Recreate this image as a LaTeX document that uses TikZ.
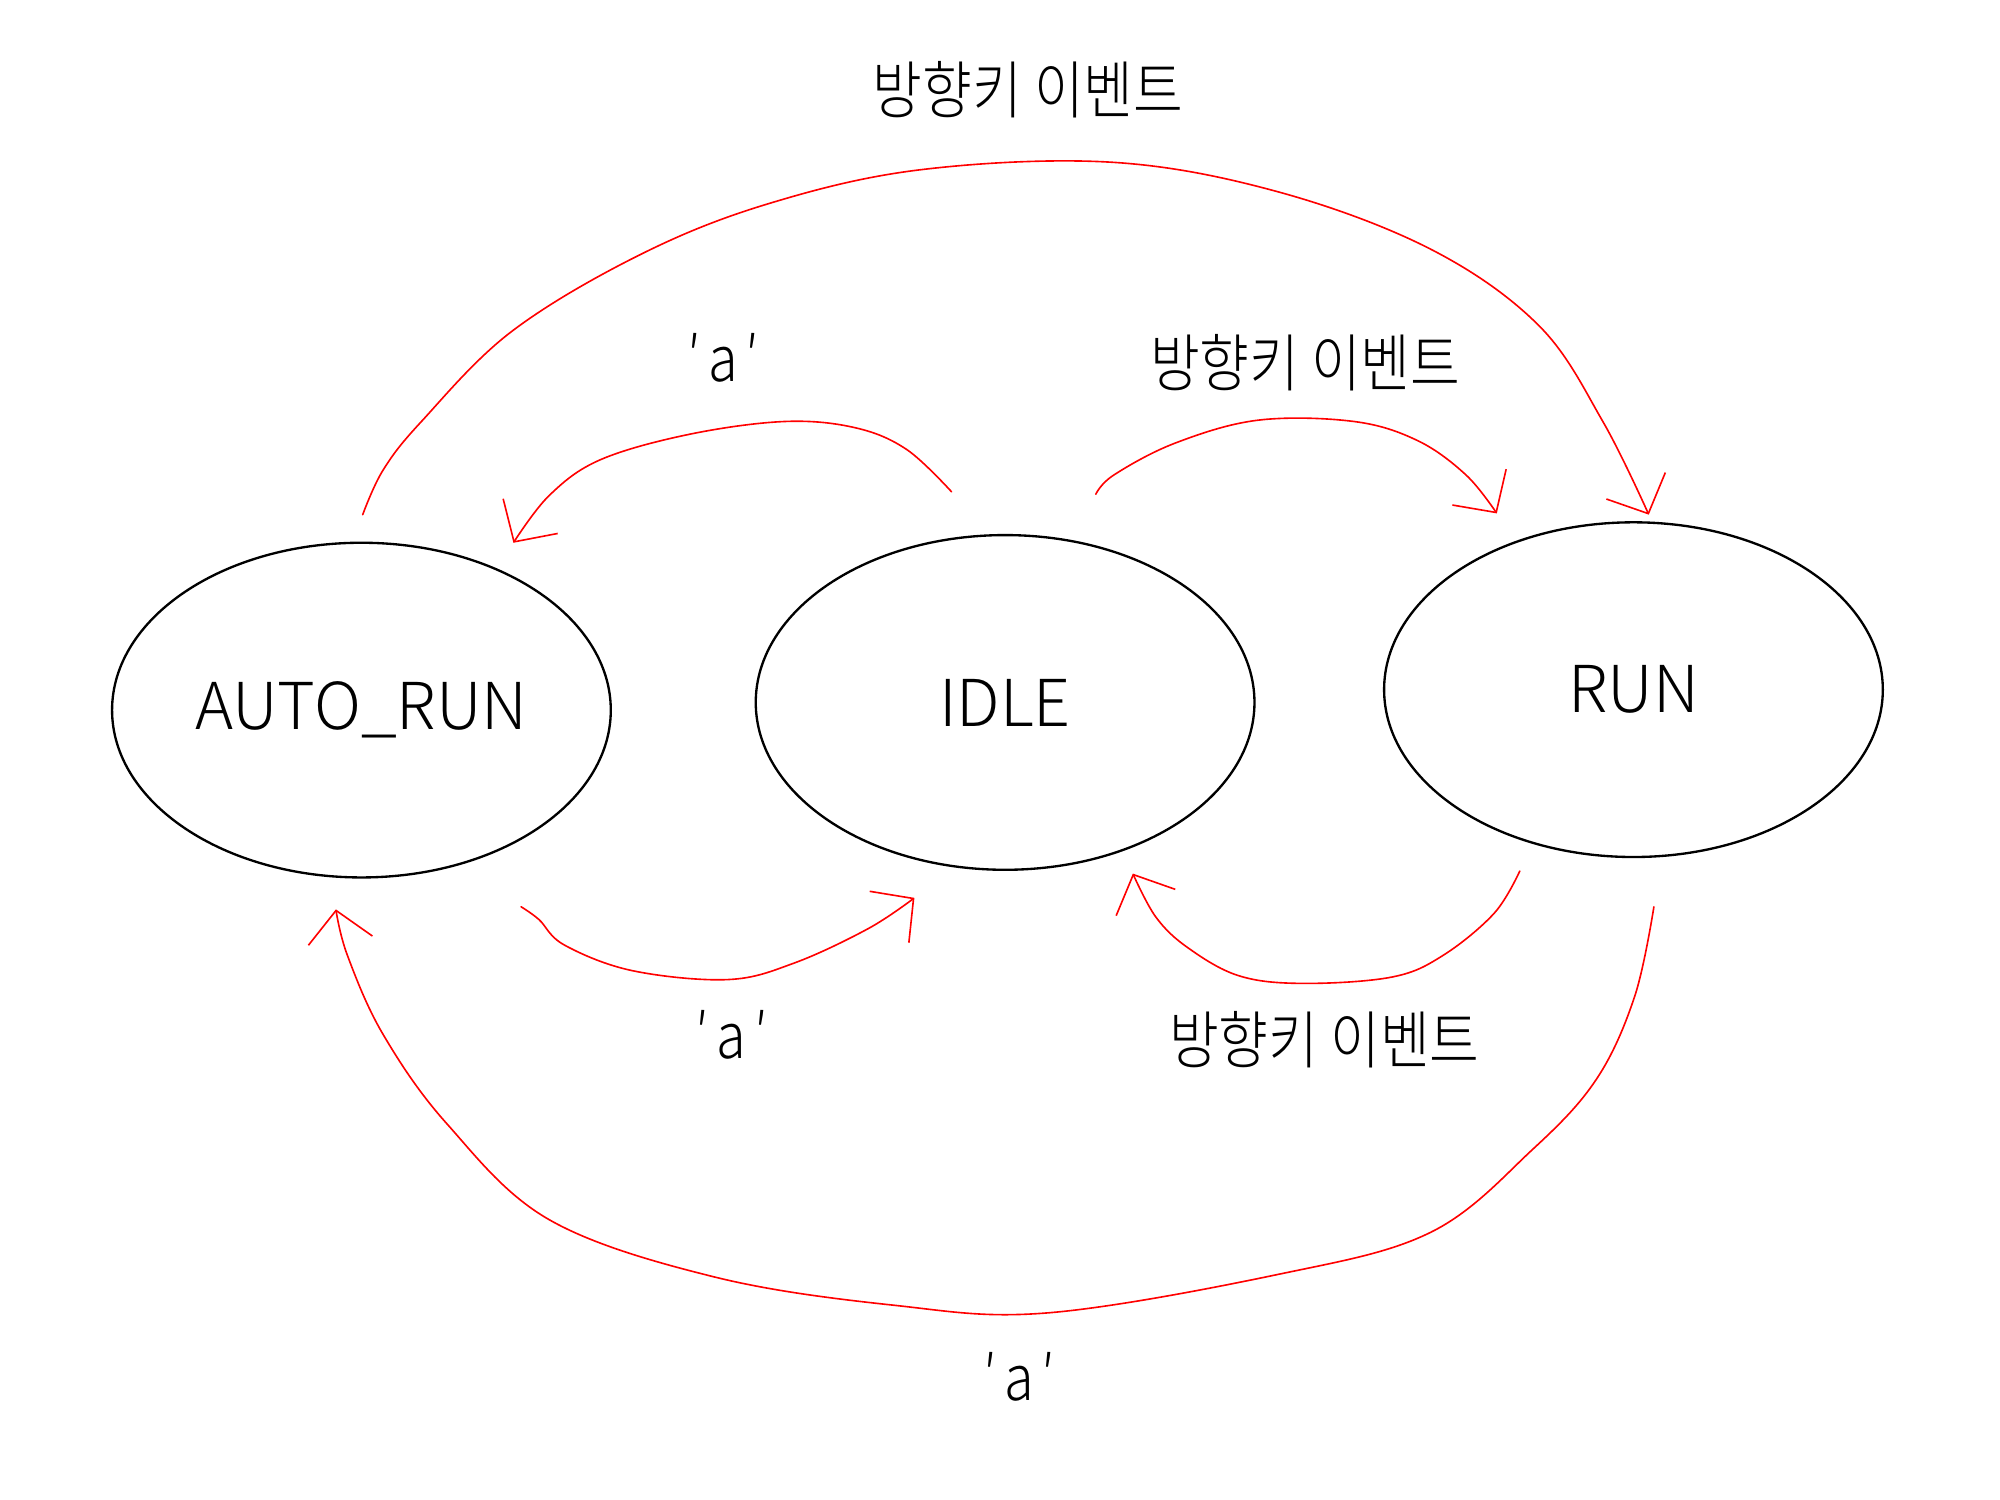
\documentclass[tikz,border=0pt]{standalone}
\usepackage{fontspec}
\setmainfont{Noto Sans CJK KR}[UprightFont={* Light}]
\newfontfamily\kr{Noto Sans CJK KR}[UprightFont={* Light}, FakeStretch=0.86]
\usetikzlibrary{shapes.geometric,arrows.meta,calc}
\tikzset{
  state/.style={draw=black, line width=1.3pt, ellipse, minimum width=9.76cm, minimum height=6.55cm, inner sep=0pt, outer sep=0pt, font=\fontsize{36}{40}\selectfont},
  edge/.style={draw=red, line width=0.9pt, line cap=round, line join=round, -{Straight Barb[length=17pt,width=36pt,line width=0.9pt]}},
  lbl/.style={font=\kr\fontsize{35}{40}\selectfont, inner sep=0pt}
}
\newcommand{\qa}{′\hspace{0.12em}a\hspace{0.12em}′}
\begin{document}
\begin{tikzpicture}[x=0.025cm, y=-0.025cm]
\useasboundingbox (0,0) rectangle (1566,1174.5);
\fill[white] (0,0) rectangle (1566,1174.5);

\node[state] (auto) at (283,556) {AUTO\_RUN};
\node[state] (idle) at (787,550) {IDLE};
\node[state] (run) at (1279,540) {RUN};

% endpoints near the nodes
\coordinate (a1) at ($(auto.north)+(1,-22)$);
\coordinate (r1) at ($(run.north)+(12,-6)$);
\coordinate (i2) at (745,385);
\coordinate (a2) at (402,425);
\coordinate (i3) at (858,387);
\coordinate (r3) at (1172,402);
\coordinate (r4) at (1190,682);
\coordinate (i4) at (887,684);
\coordinate (a5) at (408,710);
\coordinate (i5) at (716,703);
\coordinate (r6) at (1295,710);
\coordinate (a6) at (263,712);

% top big: AUTO_RUN -> RUN
\draw[edge] plot[smooth, tension=0.6] coordinates {(a1) (300,368) (330,330) (400,260) (500,200) (600,160) (720,133) (870,127) (1000,150) (1120,195) (1205,255) (1255,330) (r1)};
% IDLE -> AUTO_RUN upper
\draw[edge] plot[smooth, tension=0.6] coordinates {(i2) (710,352) (670,335) (615,330) (540,340) (470,360) (430,388) (a2)};
% IDLE -> RUN upper
\draw[edge] plot[smooth, tension=0.6] coordinates {(i3) (872,372) (920,347) (985,329) (1060,330) (1110,345) (1148,372) (r3)};
% RUN -> IDLE lower
\draw[edge] plot[smooth, tension=0.6] coordinates {(r4) (1170,715) (1130,748) (1090,765) (1020,770) (970,764) (930,742) (905,718) (i4)};
% AUTO_RUN -> IDLE lower
\draw[edge] plot[smooth, tension=0.6] coordinates {(a5) (422,720) (442,740) (495,760) (570,767) (622,754) (680,727) (i5)};
% bottom big: RUN -> AUTO_RUN
\draw[edge] plot[smooth, tension=0.6] coordinates {(r6) (1280,780) (1250,845) (1200,900) (1120,965) (1000,998) (820,1028) (700,1022) (560,1000) (430,955) (350,880) (300,810) (272,748) (a6)};

\node[lbl] (t1) at (805,70) {방향키 이벤트};
\node[lbl] (t2) at (566,280) {\qa};
\node[lbl] (t3) at (1022,284) {방향키 이벤트};
\node[lbl] (t4) at (573,810) {\qa};
\node[lbl] (t5) at (1037,814) {방향키 이벤트};
\node[lbl] (t6) at (798,1078) {\qa};
\end{tikzpicture}
\end{document}
